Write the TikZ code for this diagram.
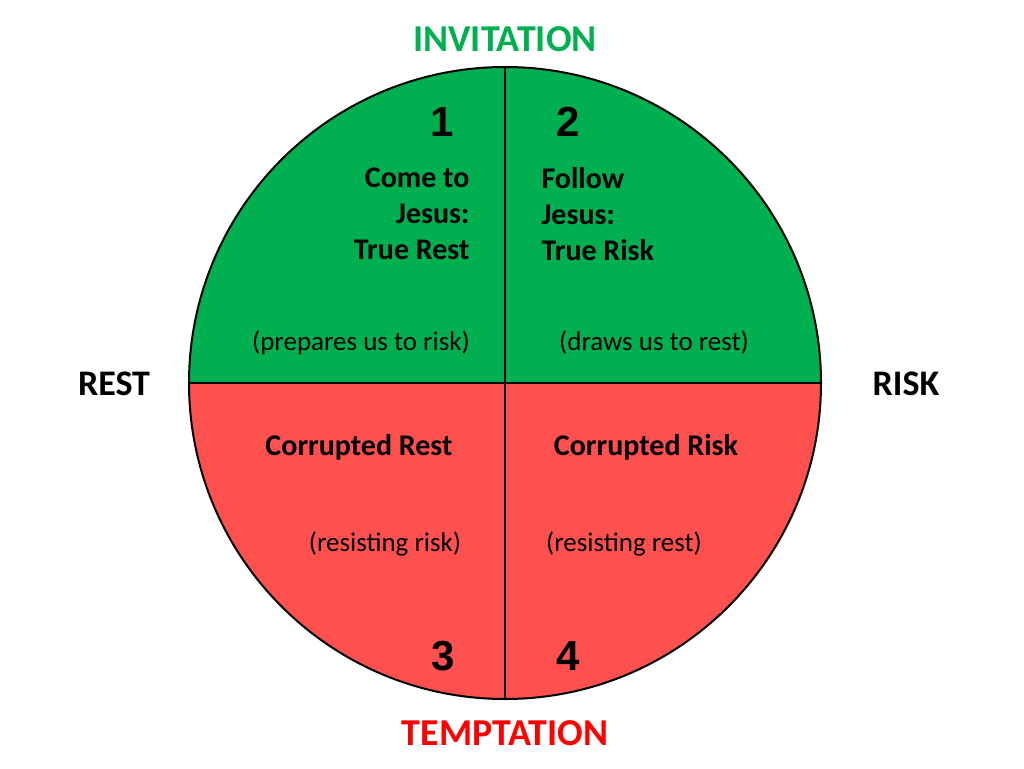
\documentclass[tikz,border=0pt]{standalone}
\usepackage{fontspec}
\setmainfont{Carlito}
\newfontfamily\numfont{Liberation Sans}
\definecolor{gr}{HTML}{00B050}
\definecolor{rd}{HTML}{FF5050}
\begin{document}
\begin{tikzpicture}[x=1pt,y=-1pt,
  lab/.style={font=\fontsize{30}{36}\selectfont\bfseries},
  sm/.style={font=\fontsize{27}{32}\selectfont},
  num/.style={font=\fontsize{42}{46}\selectfont\bfseries\numfont}]
\useasboundingbox (0,0) rectangle (1024,768);
\coordinate (c) at (505,383);
\fill[gr] (189,383) arc[start angle=180,end angle=0,x radius=316,y radius=-316] -- cycle;
\fill[rd] (189,383) arc[start angle=180,end angle=360,x radius=316,y radius=-316] -- cycle;
\draw[line width=2pt] (c) circle[radius=316];
\draw[line width=2pt] (189,383) -- (821,383);
\draw[line width=2pt] (505,68) -- (505,699);
\node[font=\fontsize{38}{44}\selectfont\bfseries,text=gr] (inv) at (505,39) {INVITATION};
\node[font=\fontsize{38}{44}\selectfont\bfseries,text=red] (tem) at (505,733) {TEMPTATION};
\node[font=\fontsize{36}{42}\selectfont\bfseries] (rest) at (114,384) {REST};
\node[font=\fontsize{36}{42}\selectfont\bfseries] (risk) at (906,384) {RISK};
\node[num] (n1) at (442,122) {1};
\node[num] (n2) at (568,122) {2};
\node[num] (n3) at (443,656) {3};
\node[num] (n4) at (568,656) {4};
\node[lab,align=right,anchor=north east] (q1) at (473,164) {Come to\\Jesus:\\True Rest};
\node[lab,align=left,anchor=north west] (q2) at (538,164) {Follow\\Jesus:\\True Risk};
\node[sm] (p1) at (361,343) {(prepares us to risk)};
\node[sm] (p2) at (654,342) {(draws us to rest)};
\node[lab] (q3) at (359,447) {Corrupted Rest};
\node[lab] (q4) at (646,447) {Corrupted Risk};
\node[sm] (p3) at (385,544) {(resisting risk)};
\node[sm] (p4) at (624,544) {(resisting rest)};
\end{tikzpicture}
\end{document}
